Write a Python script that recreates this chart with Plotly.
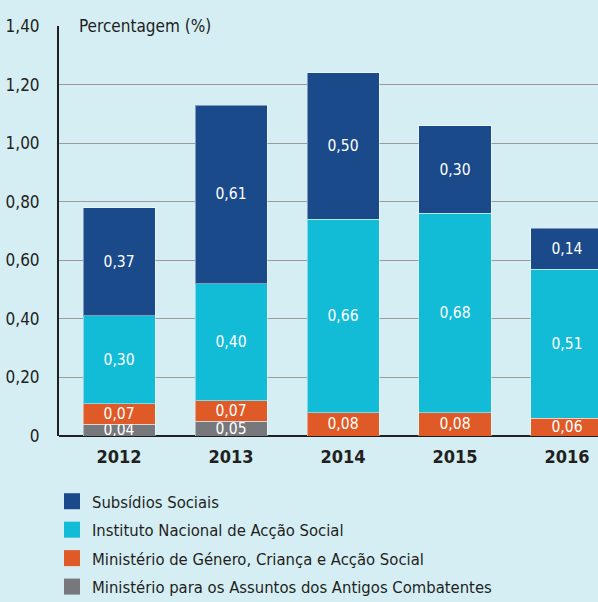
import plotly.graph_objects as go

years = ["2012", "2013", "2014", "2015", "2016"]
combatentes = [0.04, 0.05, 0.0, 0.0, 0.0]
genero = [0.07, 0.07, 0.08, 0.08, 0.06]
inas = [0.30, 0.40, 0.66, 0.68, 0.51]
subsidios = [0.37, 0.61, 0.50, 0.30, 0.14]

y_ticks = [0, 0.2, 0.4, 0.6, 0.8, 1.0, 1.2, 1.4]
y_tick_labels = ["0", "0,20", "0,40", "0,60", "0,80", "1,00", "1,20", "1,40"]

FONT = "Liberation Sans Narrow, DejaVu Sans Condensed, Arial Narrow, Roboto, sans-serif"
BG = "#d5eef4"
TEXT = "#231f20"

series = [
    ("Ministério para os Assuntos dos Antigos Combatentes", combatentes, "#77787b"),
    ("Ministério de Género, Criança e Acção Social", genero, "#e05a27"),
    ("Instituto Nacional de Acção Social", inas, "#13bcd6"),
    ("Subsídios Sociais", subsidios, "#1b4a8b"),
]


def fmt(v):
    return f"{v:.2f}".replace(".", ",") if v else ""


fig = go.Figure()
for name, vals, color in series:
    fig.add_trace(
        go.Bar(
            x=years,
            y=vals,
            name=name,
            marker=dict(color=color, line=dict(color="rgba(255,255,255,0.45)", width=1)),
            text=[fmt(v) for v in vals],
            textposition="inside",
            insidetextanchor="middle",
            textfont=dict(family=FONT, size=15.5, color="white"),
            showlegend=False,
            hoverinfo="skip",
        )
    )

# legend entries with larger square swatches
for name, vals, color in reversed(series):
    fig.add_trace(
        go.Scatter(
            x=[None],
            y=[None],
            mode="markers",
            name=name,
            legendgroup=name,
            marker=dict(symbol="square", size=16, color=color),
        )
    )

fig.update_layout(
    barmode="stack",
    bargap=0.357,
    width=598,
    height=602,
    margin=dict(l=59, r=0, t=26, b=166, autoexpand=False),
    paper_bgcolor=BG,
    plot_bgcolor=BG,
    font=dict(family=FONT, size=17, color=TEXT),
    uniformtext=dict(minsize=15.5, mode="show"),
    legend=dict(
        xref="container",
        yref="container",
        x=52 / 598,
        y=1 - 484 / 602,
        xanchor="left",
        yanchor="top",
        font=dict(family=FONT, size=16.5, color=TEXT),
        tracegroupgap=4,
        bgcolor="rgba(0,0,0,0)",
    ),
    annotations=[
        dict(
            text="Percentagem (%)",
            xref="paper",
            yref="y",
            x=13 / 539,
            y=1.4,
            xanchor="left",
            showarrow=False,
            bgcolor=BG,
            borderpad=6,
            font=dict(family=FONT, size=17, color=TEXT),
        )
    ],
)

fig.update_xaxes(
    type="category",
    range=[-0.536, 4.277],
    showline=False,
    showgrid=False,
    ticks="",
    ticklabelstandoff=8,
    tickfont=dict(family=FONT, size=18, color=TEXT, weight="bold"),
)
fig.update_yaxes(
    range=[0, 1.4],
    tickvals=y_ticks,
    ticktext=y_tick_labels,
    showgrid=True,
    gridcolor="#9a9a9a",
    gridwidth=1,
    zeroline=True,
    zerolinecolor=TEXT,
    zerolinewidth=2,
    showline=True,
    linecolor=TEXT,
    linewidth=2,
    ticks="",
    ticklabelstandoff=14,
    tickfont=dict(family=FONT, size=17, color=TEXT),
)

fig.write_html(
    "out.html",
    config={"displayModeBar": False},
    post_script="document.body.style.margin='0';",
)
